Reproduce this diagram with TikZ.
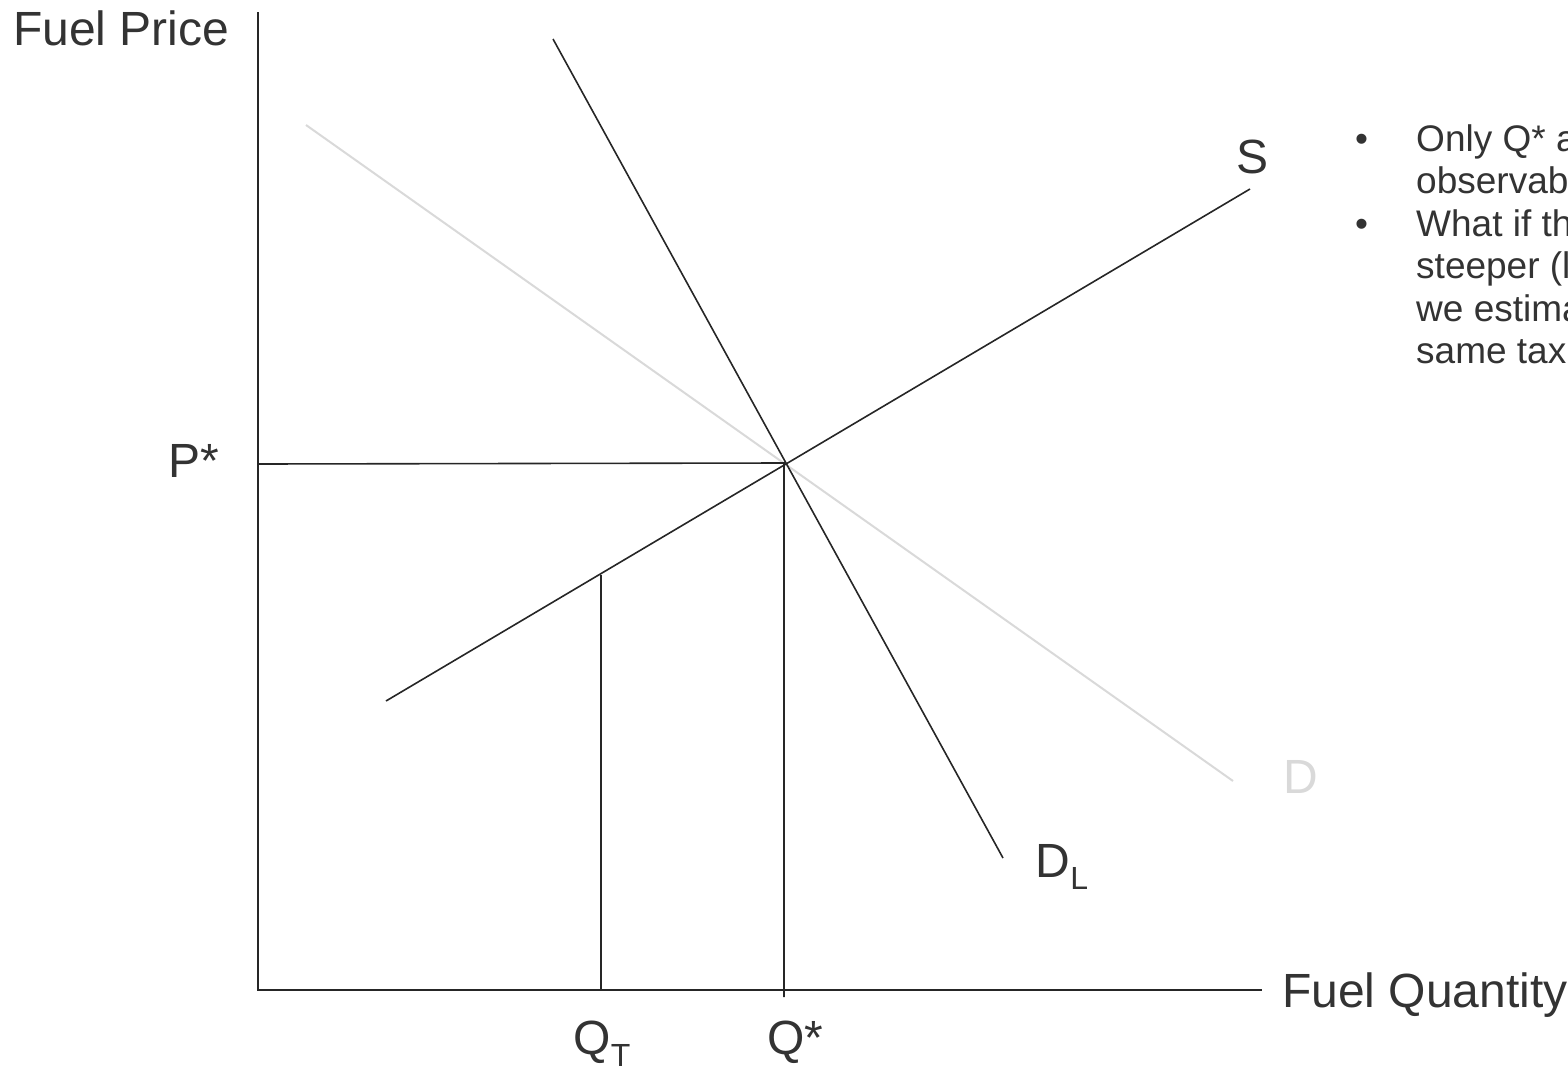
\documentclass[tikz,border=0pt]{standalone}
\usepackage{fontspec}
\setmainfont{Liberation Sans}
\definecolor{ink}{HTML}{333333}
\definecolor{lineink}{HTML}{262626}
\definecolor{pale}{HTML}{D9D9D9}
\begin{document}
\begin{tikzpicture}[x=1pt,y=-1pt,
  lab/.style={font=\fontsize{48}{58}\selectfont, text=ink, inner sep=0pt, anchor=base west},
  sublab/.style={font=\fontsize{32}{38}\selectfont, text=ink, inner sep=0pt, anchor=base west},
  bul/.style={font=\fontsize{37}{42}\selectfont, text=ink, inner sep=0pt, anchor=base west},
  axisline/.style={draw=lineink, line width=2pt},
  curveline/.style={draw=lineink, line width=1.6pt},
  paleline/.style={draw=pale, line width=2pt},
  guideline/.style={draw=lineink, line width=1.6pt}]
\useasboundingbox (0,0) rectangle (1568,1068);
\clip (0,0) rectangle (1568,1068);
% coordinates
\coordinate (O) at (258,990);
\coordinate (Ytop) at (258,12);
\coordinate (Xend) at (1262,990);
\coordinate (S1) at (386,701);
\coordinate (S2) at (1250,189);
\coordinate (DL1) at (553,39);
\coordinate (DL2) at (1003,858);
\coordinate (D1) at (306,125);
\coordinate (D2) at (1233,781);
\coordinate (E) at (784,463);
\coordinate (Pax) at (258,464);
\coordinate (Qsax) at (784,997);
\coordinate (QTtop) at (601,575);
\coordinate (QTax) at (601,990);
% curves
\draw[paleline] (D1) -- (D2);
\draw[axisline] (Ytop) -- (O) -- (Xend);
\draw[curveline] (S1) -- (S2);
\draw[curveline] (DL1) -- (DL2);
\draw[guideline] (Pax) -- (E) -- (Qsax);
\draw[guideline] (QTtop) -- (QTax);
% labels
\node[lab] (fp) at (13,45) {Fuel Price};
\node[lab] (fq) at (1282,1007) {Fuel Quantity};
\node[lab] (ps) at (168,477) {P*};
\node[lab] (sl) at (1236,173) {S};
\node[lab, text=pale] (dlab) at (1283,793) {D};
\node[lab] (dL) at (1035,877) {D};
\node[sublab] (dLs) at ([yshift=-12.5pt]dL.base east) {L};
\node[lab] (qt) at (573,1054) {Q};
\node[sublab] (qts) at ([yshift=-12pt]qt.base east) {T};
\node[lab] (qs) at (767,1054) {Q*};
% bullet text
\node[bul] (b1) at (1355,151) {•};
\node[bul] (t1) at (1416,151) {Only Q* a};
\node[bul] (t2) at (1416,193.5) {observab};
\node[bul] (b2) at (1355,236) {•};
\node[bul] (t3) at (1416,236) {What if th};
\node[bul] (t4) at (1416,278.5) {steeper (l};
\node[bul] (t5) at (1416,321) {we estima};
\node[bul] (t6) at (1416,363.5) {same tax};
\end{tikzpicture}
\end{document}
